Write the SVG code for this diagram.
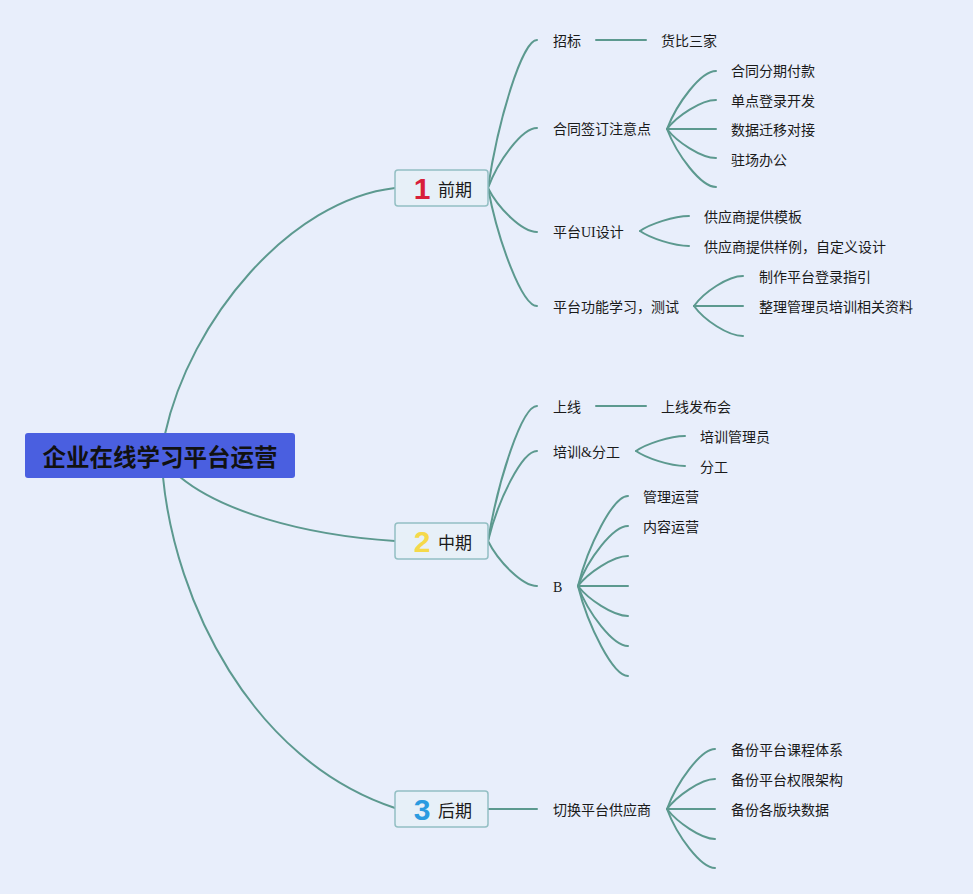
<svg xmlns="http://www.w3.org/2000/svg" width="973" height="894" viewBox="0 0 973 894">
<style>
.bg{fill:#e8eefb}
.c{fill:none;stroke:#5c998f;stroke-width:2;stroke-linecap:round}
.t{font-family:"Liberation Serif","Noto Sans CJK SC",serif;font-size:14px;fill:#1a1a1a;dominant-baseline:central}
.bx{fill:#e7f0f8;stroke:#93bfc3;stroke-width:1.5}
.bt{font-family:"Noto Sans CJK SC","Liberation Sans",sans-serif;font-size:17px;fill:#1a1a1a;dominant-baseline:central}
.num{font-family:"Liberation Sans","Noto Sans",sans-serif;font-weight:bold;font-size:30px;text-anchor:middle;dominant-baseline:central}
.root{font-family:"Noto Sans CJK SC",sans-serif;font-weight:bold;font-size:23.5px;fill:#111;text-anchor:middle;dominant-baseline:central}
</style>
<rect class="bg" x="0" y="0" width="973" height="894"/>
<g id="connectors">
<path class="c" d="M165,434 C190,320 290,200 395,188"/>
<path class="c" d="M180,477 C220,510 300,535 395,541"/>
<path class="c" d="M163,477 C175,600 250,760 395,808"/>
<path class="c" d="M488,188 C498,121 522,40 537,40"/>
<path class="c" d="M488,188 C498,161 522,128 537,128"/>
<path class="c" d="M488,188 C498,208 522,232 537,232"/>
<path class="c" d="M488,188 C498,241 522,306 537,306"/>
<path class="c" d="M596,40 L646,40"/>
<path class="c" d="M667,129 C677,103 701,71 716,71"/>
<path class="c" d="M667,129 C677,116 701,100 716,100"/>
<path class="c" d="M667,129 L716,129"/>
<path class="c" d="M667,129 C677,142 701,158 716,158"/>
<path class="c" d="M667,129 C677,155 701,187 716,187"/>
<path class="c" d="M640,231 C650,224 674,216 689,216"/>
<path class="c" d="M640,231 C650,238 674,246 689,246"/>
<path class="c" d="M694,306 C704,292 728,276 743,276"/>
<path class="c" d="M694,306 L743,306"/>
<path class="c" d="M694,306 C704,320 728,336 743,336"/>
<path class="c" d="M488,541 C498,480 522,406 537,406"/>
<path class="c" d="M488,541 C498,500 522,451 537,451"/>
<path class="c" d="M488,541 C498,561 522,586 537,586"/>
<path class="c" d="M596,406 L646,406"/>
<path class="c" d="M636,451 C646,444 670,436 685,436"/>
<path class="c" d="M636,451 C646,458 670,466 685,466"/>
<path class="c" d="M578,586 C588,546 613,496 628,496"/>
<path class="c" d="M578,586 C588,559 613,526 628,526"/>
<path class="c" d="M578,586 C588,573 613,556 628,556"/>
<path class="c" d="M578,586 L628,586"/>
<path class="c" d="M578,586 C588,599 613,616 628,616"/>
<path class="c" d="M578,586 C588,613 613,646 628,646"/>
<path class="c" d="M578,586 C588,626 613,676 628,676"/>
<path class="c" d="M488,809 L537,809"/>
<path class="c" d="M667,809 C677,782 701,749 715,749"/>
<path class="c" d="M667,809 C677,796 701,779 715,779"/>
<path class="c" d="M667,809 L715,809"/>
<path class="c" d="M667,809 C677,822 701,839 715,839"/>
<path class="c" d="M667,809 C677,836 701,868 715,868"/>
</g>
<g id="root">
<rect x="25" y="433" width="270" height="45" rx="3" fill="#4a5fe0"/>
<text class="root" x="160" y="456">企业在线学习平台运营</text>
</g>
<g id="phase1">
<rect class="bx" x="395" y="170" width="93" height="36" rx="3"/>
<text class="num" x="422" y="188" fill="#d81f3a">1</text>
<text class="bt" x="438" y="188">前期</text>
</g>
<g id="phase2">
<rect class="bx" x="395" y="523" width="93" height="36" rx="3"/>
<text class="num" x="422" y="541" fill="#f5d94a">2</text>
<text class="bt" x="438" y="541">中期</text>
</g>
<g id="phase3">
<rect class="bx" x="395" y="791" width="93" height="36" rx="3"/>
<text class="num" x="422" y="809" fill="#2b9be0">3</text>
<text class="bt" x="438" y="809">后期</text>
</g>
<g id="n-zhaobiao"><text class="t" x="553" y="41">招标</text></g>
<g id="n-huobi"><text class="t" x="661" y="41">货比三家</text></g>
<g id="n-hetong"><text class="t" x="553" y="129">合同签订注意点</text></g>
<g id="n-ht1"><text class="t" x="731" y="71">合同分期付款</text></g>
<g id="n-ht2"><text class="t" x="731" y="101">单点登录开发</text></g>
<g id="n-ht3"><text class="t" x="731" y="130">数据迁移对接</text></g>
<g id="n-ht4"><text class="t" x="731" y="160">驻场办公</text></g>
<g id="n-ui"><text class="t" x="553" y="232">平台UI设计</text></g>
<g id="n-ui1"><text class="t" x="704" y="217">供应商提供模板</text></g>
<g id="n-ui2"><text class="t" x="704" y="247">供应商提供样例，自定义设计</text></g>
<g id="n-gn"><text class="t" x="553" y="307">平台功能学习，测试</text></g>
<g id="n-gn1"><text class="t" x="759" y="277">制作平台登录指引</text></g>
<g id="n-gn2"><text class="t" x="759" y="307">整理管理员培训相关资料</text></g>
<g id="n-sx"><text class="t" x="553" y="407">上线</text></g>
<g id="n-sx1"><text class="t" x="661" y="407">上线发布会</text></g>
<g id="n-px"><text class="t" x="553" y="452">培训&amp;分工</text></g>
<g id="n-px1"><text class="t" x="700" y="437">培训管理员</text></g>
<g id="n-px2"><text class="t" x="700" y="467">分工</text></g>
<g id="n-b"><text class="t" x="553" y="587">B</text></g>
<g id="n-b1"><text class="t" x="643" y="497">管理运营</text></g>
<g id="n-b2"><text class="t" x="643" y="527">内容运营</text></g>
<g id="n-qh"><text class="t" x="553" y="810">切换平台供应商</text></g>
<g id="n-qh1"><text class="t" x="731" y="750">备份平台课程体系</text></g>
<g id="n-qh2"><text class="t" x="731" y="780">备份平台权限架构</text></g>
<g id="n-qh3"><text class="t" x="731" y="810">备份各版块数据</text></g>
</svg>
